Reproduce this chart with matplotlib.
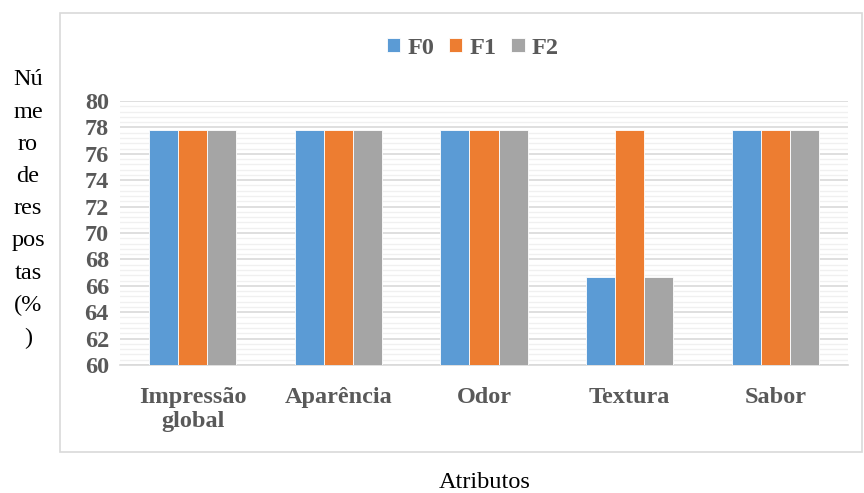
import matplotlib.pyplot as plt
import numpy as np
from matplotlib.patches import Rectangle
from matplotlib.ticker import MultipleLocator

categories = ['Impressão\nglobal', 'Aparência', 'Odor', 'Textura', 'Sabor']
series = ['F0', 'F1', 'F2']
f0 = [77.78, 77.78, 77.78, 66.67, 77.78]
f1 = [77.78, 77.78, 77.78, 77.78, 77.78]
f2 = [77.78, 77.78, 77.78, 66.67, 77.78]
colors = ['#5B9BD5', '#ED7D31', '#A5A5A5']

plt.rcParams['font.family'] = ['Liberation Serif', 'DejaVu Serif']

fig = plt.figure(figsize=(8.64, 4.93), dpi=100)
ax = fig.add_axes([120/864, 1 - 365/493, (848 - 120)/864, (365 - 101)/493])

# outer chart frame
fig.patches.append(Rectangle((60/864, 1 - 452/493), (862 - 60)/864, (452 - 13)/493,
                             transform=fig.transFigure, fill=False,
                             edgecolor='#d9d9d9', linewidth=1.2))

x = np.arange(len(categories))
w = 0.2
for i, (vals, name) in enumerate(zip([f0, f1, f2], series)):
    ax.bar(x + (i - 1) * w, [v - 60 for v in vals], w, bottom=60, color=colors[i],
           edgecolor='white', linewidth=0.6, label=name, zorder=3)

ax.set_xlim(-0.5, len(categories) - 0.5)
ax.set_ylim(60, 80)
ax.yaxis.set_major_locator(MultipleLocator(2))
ax.yaxis.set_minor_locator(MultipleLocator(0.4))
ax.grid(axis='y', which='major', color='#d9d9d9', linewidth=1.2, zorder=0)
ax.grid(axis='y', which='minor', color='#f0f0f0', linewidth=1.0, zorder=0)
ax.set_axisbelow(True)

for s in ['top', 'right', 'left']:
    ax.spines[s].set_visible(False)
ax.spines['bottom'].set_color('#d9d9d9')
ax.spines['bottom'].set_linewidth(1.2)

ax.set_xticks(x)
ax.set_xticklabels(categories, fontsize=17.5, fontweight='bold', color='#595959',
                   linespacing=1.2)
ax.tick_params(axis='x', length=0, pad=16)
ax.tick_params(axis='y', which='both', length=0, labelsize=17.5, labelcolor='#595959', pad=8)
for lbl in ax.get_yticklabels():
    lbl.set_fontweight('bold')

leg = ax.legend(loc='center', bbox_to_anchor=(473/864, 1 - 48/493),
                bbox_transform=fig.transFigure, ncol=3, frameon=False,
                prop={'size': 17.5, 'weight': 'bold'}, handlelength=0.55, handleheight=0.55,
                handletextpad=0.3, columnspacing=0.6)
for t in leg.get_texts():
    t.set_color('#595959')

fig.text(28/864, 1 - 209/493, 'Nú\nme\nro\nde\nres\npos\ntas\n(%\n)', ha='center',
         va='center', fontsize=17.5, linespacing=1.7, color='black')
fig.text(485/864, 1 - 483/493, 'Atributos', ha='center', va='center', fontsize=17.5,
         color='black')

fig.savefig('out.png', dpi=100)
